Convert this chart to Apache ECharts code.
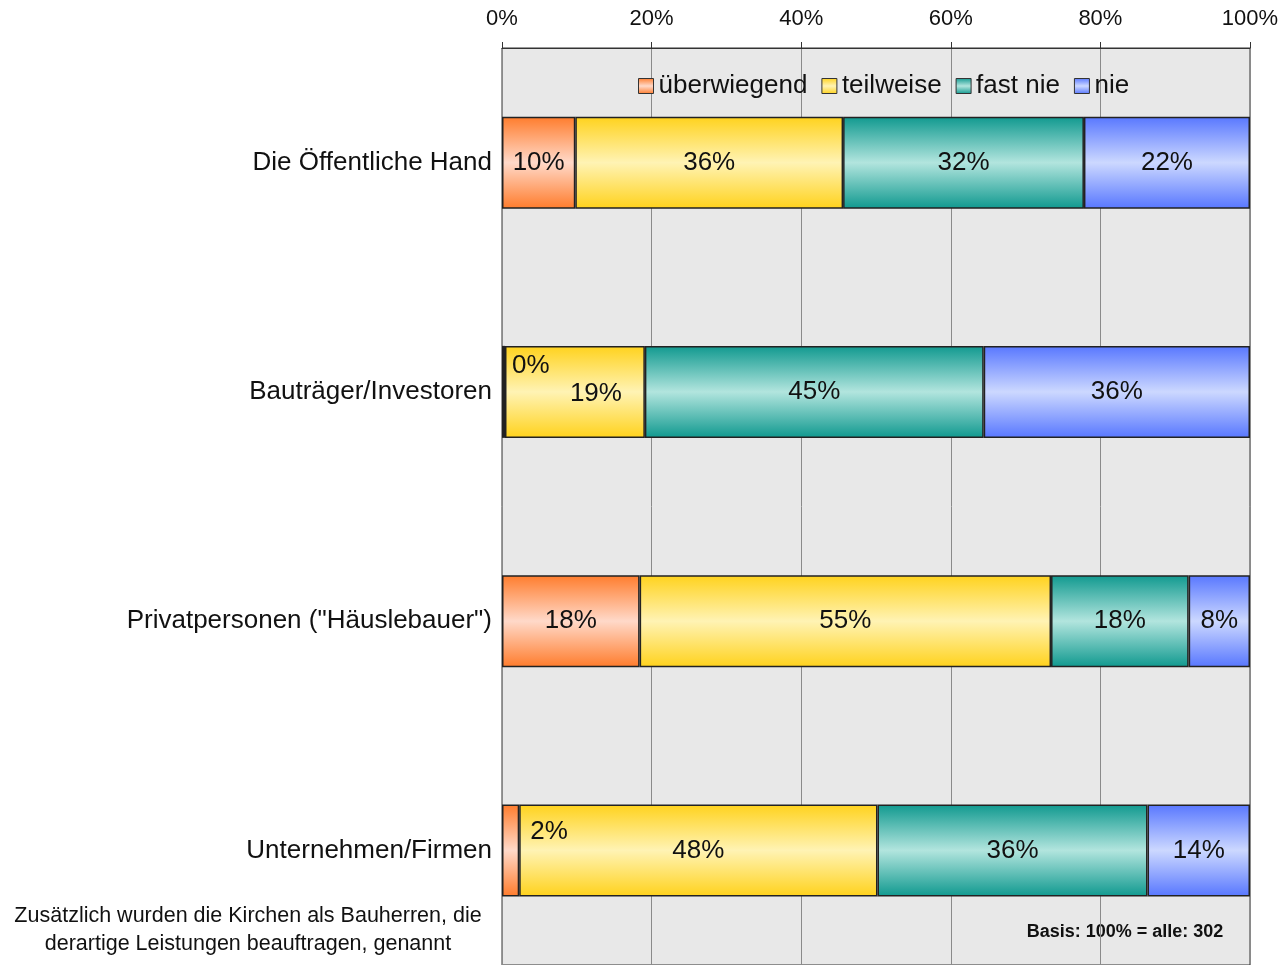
<!DOCTYPE html>
<html>
<head>
<meta charset="utf-8">
<script src="https://cdn.jsdelivr.net/npm/echarts@6/dist/echarts.min.js"></script>
<style>
  html, body { margin: 0; padding: 0; background: #fff; }
  #chart { width: 1288px; height: 965px; }
</style>
</head>
<body>
<div id="chart"></div>
<script>
// Kategorien (von oben nach unten)
const categories = ['Die Öffentliche Hand', 'Bauträger/Investoren', 'Privatpersonen ("Häuslebauer")', 'Unternehmen/Firmen']
const seriesNames = ['überwiegend', 'teilweise', 'fast nie', 'nie']
// Anteile in %, je Kategorie
const ueberwiegend = [9.8, 0.4, 18.4, 2.3]
const teilweise = [35.8, 18.7, 55.0, 47.9]
const fastNie = [32.2, 45.3, 18.4, 36.1]
const nie = [22.2, 35.6, 8.2, 13.7]
const xTicks = [0, 20, 40, 60, 80, 100]

const fontFamily = '"Liberation Sans", Arial, sans-serif'

function grad (edge, mid) {
  return new echarts.graphic.LinearGradient(0, 0, 0, 1, [
    { offset: 0, color: edge },
    { offset: 0.5, color: mid },
    { offset: 1, color: edge }
  ])
}

const colors = [
  grad('#ff7c2c', '#ffd9c9'),
  grad('#ffd21c', '#fff3b4'),
  grad('#10998f', '#b2e5de'),
  grad('#5877ff', '#ccd8ff')
]

const labelBase = {
  show: true,
  position: 'inside',
  color: '#111',
  fontSize: 26,
  fontFamily: fontFamily,
  formatter: p => Math.round(p.value) + '%'
}

function makeData (values, idx) {
  return values.map((v, i) => {
    const item = { value: v }
    // kleine Werte stehen oberhalb, rechts neben dem Segment
    if (idx === 0 && v < 5) {
      item.label = { position: 'right', distance: 5, offset: [i === 1 ? 2 : 6, i === 1 ? -26 : -19] }
    }
    if (idx === 1 && ueberwiegend[i] < 1) {
      item.label = { offset: [21, 2] }
    }
    return item
  })
}

const allValues = [ueberwiegend, teilweise, fastNie, nie]

const chartInstance = echarts.init(document.getElementById('chart'))
const option = {
  animation: false,
  textStyle: { fontFamily: fontFamily },
  legend: {
    left: 633,
    top: 68,
    itemWidth: 15,
    itemHeight: 15,
    itemGap: 14,
    icon: 'rect',
    textStyle: { fontSize: 26, color: '#111', fontFamily: fontFamily },
    itemStyle: { borderColor: '#333', borderWidth: 1 },
    data: seriesNames
  },
  grid: {
    left: 502,
    right: 38,
    top: 48,
    bottom: 0,
    show: true,
    backgroundColor: '#e8e8e8',
    borderColor: '#333',
    borderWidth: 1
  },
  xAxis: {
    type: 'value',
    position: 'top',
    min: xTicks[0],
    max: xTicks[xTicks.length - 1],
    interval: 20,
    axisLine: { show: true, lineStyle: { color: '#333', width: 1 } },
    axisTick: { show: true, length: 6, lineStyle: { color: '#333' } },
    axisLabel: { formatter: '{value}%', fontSize: 22, color: '#111', margin: 18, fontFamily: fontFamily },
    splitLine: { show: true, lineStyle: { color: '#8a8a8a', width: 1 } }
  },
  yAxis: {
    type: 'category',
    inverse: true,
    data: categories,
    axisLine: { show: false },
    axisTick: { show: false },
    axisLabel: { fontSize: 26, color: '#111', margin: 10, fontFamily: fontFamily }
  },
  series: seriesNames.map((name, idx) => ({
    name: name,
    type: 'bar',
    stack: 'total',
    barWidth: 92,
    itemStyle: { color: colors[idx], borderColor: '#222', borderWidth: 1.5 },
    label: labelBase,
    data: makeData(allValues[idx], idx)
  })),
  graphic: [
    {
      type: 'text',
      x: 248,
      y: 902,
      style: {
        text: 'Zusätzlich wurden die Kirchen als Bauherren, die\nderartige Leistungen beauftragen, genannt',
        align: 'center',
        lineHeight: 28,
        fill: '#111',
        font: '21.5px "Liberation Sans", Arial, sans-serif'
      }
    },
    {
      type: 'text',
      x: 1125,
      y: 932,
      style: {
        text: 'Basis: 100% = alle: 302',
        align: 'center',
        verticalAlign: 'middle',
        font: 'bold 18px "Liberation Sans", Arial, sans-serif',
        fill: '#111',
        backgroundColor: '#e8e8e8',
        padding: [4, 6]
      }
    }
  ]
}
chartInstance.setOption(option)
</script>
</body>
</html>
